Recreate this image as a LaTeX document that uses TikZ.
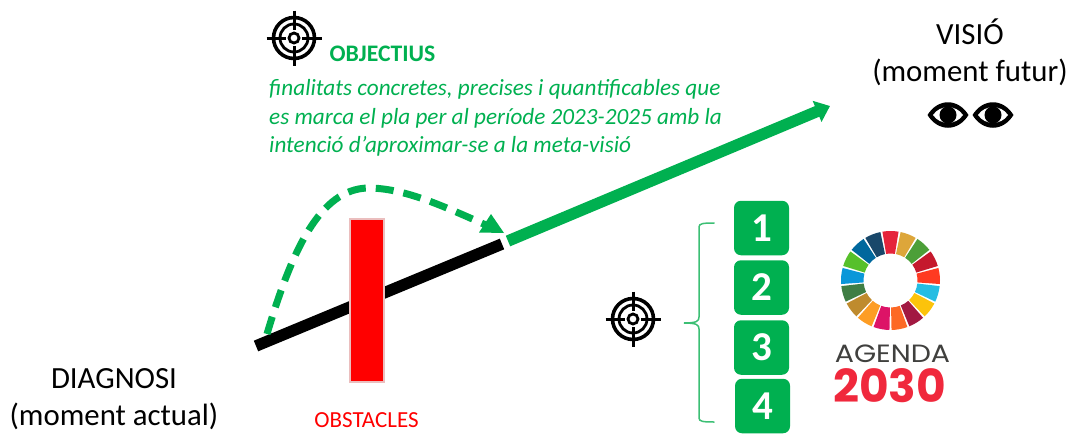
\documentclass[tikz,border=0pt]{standalone}
\usepackage{fontspec}
\setmainfont{Carlito}
\newfontfamily\popfont{Poppins}
\usetikzlibrary{arrows.meta,decorations.pathreplacing,calc}
\definecolor{ogreen}{HTML}{00B050}
\definecolor{bracegreen}{HTML}{3CBF74}
\newcommand{\fsz}[1]{\fontsize{#1}{#1}\selectfont}
\tikzset{
  x=1pt,y=-1pt,
  numbox/.style={fill=ogreen,draw=none,rounded corners=7pt,minimum width=55pt,minimum height=54.5pt,inner sep=0pt,text=white,font=\fsz{41}\bfseries},
  bigtext/.style={align=center,inner sep=0pt,font=\fontsize{30.8}{37}\selectfont},
  greentext/.style={text=ogreen,inner sep=0pt},
  target/.pic={
    \draw[line width=3.6pt] (0,0) circle (20.5);
    \draw[line width=2.8pt] (0,0) circle (14);
    \draw[line width=2.8pt] (0,0) circle (5);
    \draw[line width=3pt] (-27.5,0) -- (-8,0) (8,0) -- (27.5,0) (0,-27.5) -- (0,-8) (0,8) -- (0,27.5);
  },
  eyepic/.pic={
    \fill[black] (-20.5,0) .. controls (-10,-17) and (10,-17) .. (20.5,0) .. controls (10,17) and (-10,17) .. (-20.5,0) -- cycle;
    \fill[white] (-15,0) .. controls (-8,-10.5) and (8,-10.5) .. (15,0) .. controls (8,10.5) and (-8,10.5) .. (-15,0) -- cycle;
    \fill[black] (0,0) circle (8.5);
  },
}
\begin{document}
\begin{tikzpicture}
\useasboundingbox (0,0) rectangle (1072,434);
% main line
\coordinate (bstart) at (256,346);
\coordinate (bend) at (502,244);
\coordinate (gstart) at (508,241);
\coordinate (gend) at (830,106);
\draw[line width=11.5pt,black] (bstart) -- (bend);
\draw[line width=11.5pt,ogreen,-{Triangle[length=14pt,width=22pt]}] (gstart) -- (gend);
% dashed curve
\coordinate (cstart) at (267,334);
\coordinate (ctop) at (368,188);
\coordinate (cend) at (504,233);
\draw[line width=7pt,ogreen,dash pattern=on 18pt off 10pt] (cstart) .. controls (292,250) and (320,189) .. (ctop) .. controls (405,188) and (445,207) .. ($(cend)+(-18,-8)$);
\fill[ogreen] (cend) -- (479,232.5) -- (491,214) -- cycle;
% obstacle
\node[draw={rgb,255:red,235;green,190;blue,190},line width=1.2pt,fill=red,minimum width=34pt,minimum height=163pt,inner sep=0pt] (obst) at (367,300.5) {};
\node[inner sep=0pt,text=red,font=\fsz{23}] (obstl) at (366.5,420) {OBSTACLES};
% labels
\node[bigtext] (diag) at (114,399) {DIAGNOSI\\(moment actual)};
\node[bigtext] (visio) at (970,52) {VISIÓ\\(moment futur)};
\node[greentext,font=\fsz{23.7}\bfseries] (obj) at (382.5,54) {OBJECTIUS};
\node[greentext,anchor=north west,align=left,font=\fontsize{23.2}{28.7}\selectfont\itshape] (objt) at (269,79) {finalitats concretes, precises i quantificables que\\es marca el pla per al període 2023-2025 amb la\\intenció d’aproximar-se a la meta-visió};
% icons
\pic at (294,38) {target};
\pic at (633,319) {target};
\pic at (948,115) {eyepic};
\pic at (993,115) {eyepic};
% number boxes
\node[numbox] (n1) at (761.5,228) {1};
\node[numbox] (n2) at (761.5,287.5) {2};
\node[numbox] (n3) at (761.5,347.5) {3};
\node[numbox] (n4) at (762.5,406) {4};
% brace
\coordinate (btop) at (714,223);
\coordinate (bbot) at (714,422);
\coordinate (btip) at (684,323);
\draw[bracegreen,line width=1.5pt,line cap=round] (btop) .. controls (703,223) and (699,223.5) .. (699,227) -- (699,317) .. controls (699,321) and (697,323) .. (btip) .. controls (697,323) and (699,325) .. (699,329) -- (699,418) .. controls (699,421.5) and (703,422) .. (bbot);
% SDG wheel
\def\wcx{890.5}\def\wcy{280.5}
\foreach \c [count=\i from 0] in {E5243B,DDA63A,4C9F38,C5192D,FF3A21,26BDE2,FCC30B,A21942,FD6925,DD1367,FD9D24,BF8B2E,3F7E44,0A97D9,56C02B,00689D,19486A}{
  \definecolor{segc}{HTML}{\c}
  \pgfmathsetmacro{\aa}{-90+(\i-0.5)*360/17+1.2}
  \pgfmathsetmacro{\ab}{-90+(\i+0.5)*360/17-1.2}
  \fill[segc] ({\wcx+49.5*cos(\aa)},{\wcy+49.5*sin(\aa)}) arc[start angle=-\aa,end angle=-\ab,radius=49.5pt] -- ({\wcx+27*cos(\ab)},{\wcy+27*sin(\ab)}) arc[start angle=-\ab,end angle=-\aa,radius=27pt] -- cycle;
}
\node[inner sep=0pt,xscale=1.14,text={rgb,255:red,64;green,64;blue,62},font=\popfont\fsz{25}] (ag) at (892.5,353.5) {AGENDA};
\node[inner sep=0pt,text={rgb,255:red,240;green,40;blue,60},font=\popfont\bfseries\fsz{45.5}] (yr) at (889.5,385.5) {2030};
\end{tikzpicture}
\end{document}
